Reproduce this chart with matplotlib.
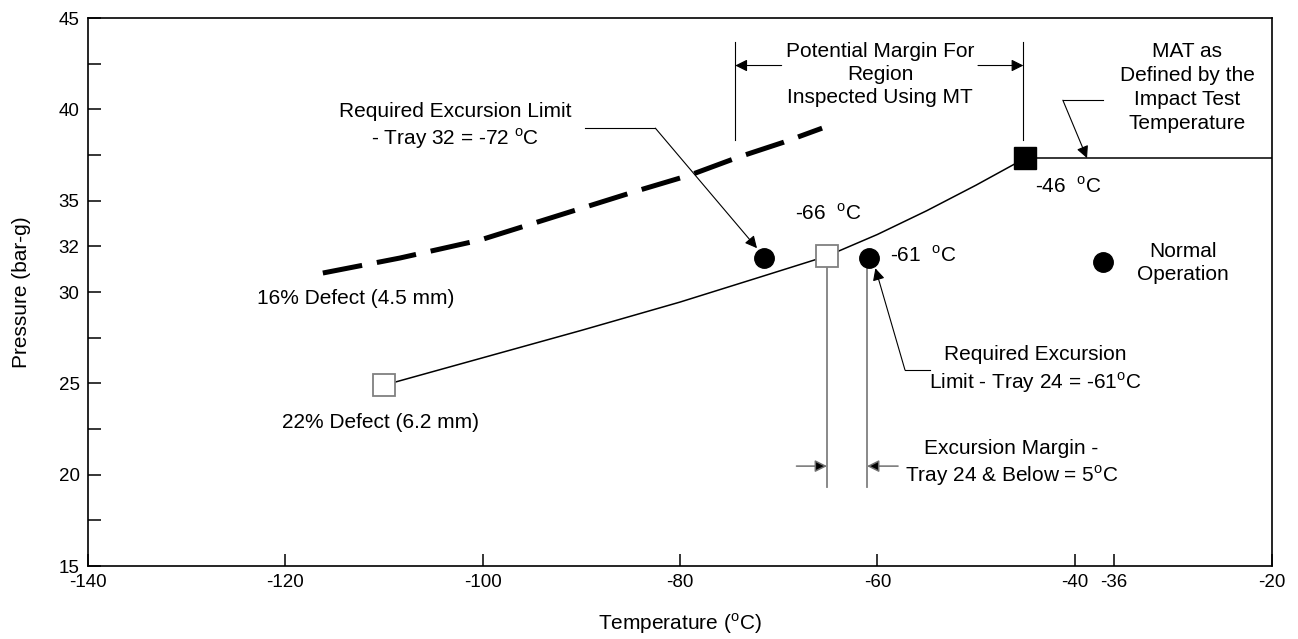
import matplotlib
matplotlib.use("Agg")
import matplotlib.pyplot as plt

plt.rcParams['font.family'] = ['Liberation Sans', 'DejaVu Sans']
plt.rcParams['mathtext.fontset'] = 'custom'
plt.rcParams['mathtext.rm'] = 'Liberation Sans'

# curva de defecto 22% (linea continua)
curve_temp = [-110, -100, -90, -80, -72, -65.1, -60, -55, -50, -45]
curve_pres = [24.9, 26.4, 27.9, 29.45, 30.8, 31.97, 33.15, 34.45, 35.85, 37.33]

# curva de defecto 16% (discontinua)
dash_temp = [-116.2, -108.4, -100.3, -92.2, -84.1, -79.0, -74.0, -69.5, -65.6]
dash_pres = [31.04, 31.86, 32.84, 34.21, 35.58, 36.40, 37.4, 38.2, 38.97]

# MAT horizontal
mat_temp = [-45, -20]
mat_pres = [37.33, 37.33]

# puntos
open_sq_temp = [-110, -65.1]
open_sq_pres = [24.9, 31.97]
black_sq_temp = [-45]
black_sq_pres = [37.33]
circle_temp = [-71.5, -60.8, -37.1]
circle_pres = [31.86, 31.86, 31.64]

xticks = [-140, -120, -100, -80, -60, -40, -36, -20]
yticks = [15, 17.5, 20, 22.5, 25, 27.5, 30, 32.5, 35, 37.5, 40, 42.5, 45]
ylabels = ['15', '', '20', '', '25', '', '30', '32', '35', '', '40', '', '45']

deg = r'$^{\rm o}$C'

fig = plt.figure(figsize=(12.98, 6.39), dpi=100)
ax = fig.add_axes([0.0678, 0.1142, 0.9122, 0.8576])

ax.plot(curve_temp, curve_pres, color='k', lw=1.1, zorder=2)
ax.plot(dash_temp, dash_pres, color='k', lw=3.6, dashes=(8, 3), zorder=2)
ax.plot(mat_temp, mat_pres, color='k', lw=1.1, zorder=2)

ax.plot(open_sq_temp, open_sq_pres, 's', ms=15.5, mfc='white', mec='#808080', mew=1.3, zorder=4)
ax.plot(black_sq_temp, black_sq_pres, 's', ms=15.5, mfc='black', mec='black', zorder=4)
ax.plot(circle_temp, circle_pres, 'o', ms=14, mfc='black', mec='black', zorder=4)

fs = 15
arr = dict(arrowstyle='-|>', color='k', lw=0.8, mutation_scale=18, shrinkA=0, shrinkB=0)

# Potential Margin
ax.plot([-74.4, -74.4], [38.3, 43.7], color='k', lw=0.8)
ax.plot([-45.2, -45.2], [38.3, 43.7], color='k', lw=0.8)
ax.annotate('', xy=(-74.4, 42.4), xytext=(-69.7, 42.4), arrowprops=arr)
ax.annotate('', xy=(-45.2, 42.4), xytext=(-49.8, 42.4), arrowprops=arr)
ax.text(-59.7, 41.9, 'Potential Margin For\nRegion\nInspected Using MT', fontsize=fs,
        ha='center', va='center', linespacing=1.25)

# MAT
ax.text(-28.6, 41.2, 'MAT as\nDefined by the\nImpact Test\nTemperature', fontsize=fs,
        ha='center', va='center', linespacing=1.35)
ax.plot([-37.1, -41.2], [40.5, 40.5], color='k', lw=0.8)
ax.annotate('', xy=(-38.75, 37.33), xytext=(-41.2, 40.5), arrowprops=arr)

# Required Excursion Limit - Tray 32
ax.text(-102.8, 39.08, 'Required Excursion Limit\n- Tray 32 = -72 ' + deg, fontsize=fs,
        ha='center', va='center', linespacing=1.3)
ax.plot([-89.6, -82.5], [38.97, 38.97], color='k', lw=0.8)
ax.annotate('', xy=(-72.2, 32.4), xytext=(-82.5, 38.97), arrowprops=arr)

# etiquetas de temperatura
ax.text(-68.3, 34.3, '-66  ' + deg, fontsize=fs, ha='left', va='center')
ax.text(-58.7, 32.0, '-61  ' + deg, fontsize=fs, ha='left', va='center')
ax.text(-44.0, 35.8, '-46  ' + deg, fontsize=fs, ha='left', va='center')
ax.text(-29.0, 31.6, 'Normal\nOperation', fontsize=fs, ha='center', va='center', linespacing=1.3)
ax.text(-112.9, 29.67, '16% Defect (4.5 mm)', fontsize=fs, ha='center', va='center')
ax.text(-110.4, 22.88, '22% Defect (6.2 mm)', fontsize=fs, ha='center', va='center')

# Required Excursion Limit - Tray 24
ax.text(-44.0, 25.73, 'Required Excursion\nLimit - Tray 24 = -61' + deg, fontsize=fs,
        ha='center', va='center', linespacing=1.3)
ax.plot([-57.2, -54.7], [25.73, 25.73], color='k', lw=0.8)
ax.annotate('', xy=(-60.2, 31.3), xytext=(-57.2, 25.73), arrowprops=arr)

# Excursion Margin
ax.plot([-65.1, -65.1], [19.3, 31.3], color='#808080', lw=1.3)
ax.plot([-61.05, -61.05], [19.3, 31.3], color='#808080', lw=1.3)
garr = dict(arrowstyle='-|>', color='#707070', lw=1.1, mutation_scale=18,
            shrinkA=0, shrinkB=0, fc='k')
ax.annotate('', xy=(-65.1, 20.47), xytext=(-68.2, 20.47), arrowprops=garr)
ax.annotate('', xy=(-61.05, 20.47), xytext=(-57.9, 20.47), arrowprops=garr)
ax.text(-46.4, 20.6, 'Excursion Margin -\nTray 24 & Below = 5' + deg, fontsize=fs,
        ha='center', va='center', linespacing=1.3)

ax.set_xlim(-140, -20)
ax.set_ylim(15, 45)
ax.set_xticks(xticks)
ax.set_xticklabels([str(t) for t in xticks])
ax.set_yticks(yticks)
ax.set_yticklabels(ylabels)
ax.tick_params(direction='in', length=9, width=1.1, labelsize=13.5, pad=6)
for s in ax.spines.values():
    s.set_linewidth(1.2)

ax.set_xlabel('Temperature (' + deg + ')', fontsize=15, labelpad=14)
ax.set_ylabel('Pressure (bar-g)', fontsize=15, labelpad=20)

fig.savefig('out.png', dpi=100)
